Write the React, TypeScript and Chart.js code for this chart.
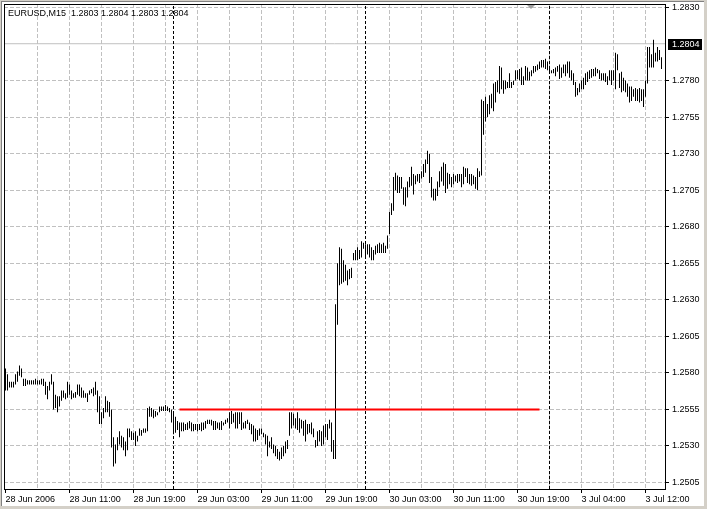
import React, { useEffect, useRef } from "react";
import { Chart, registerables } from "chart.js";

Chart.register(...registerables);

// ---- text ----
const symbolTitle = "EURUSD,M15";
const lastBarOHLC = ["1.2803", "1.2804", "1.2803", "1.2804"];
const bidLabel = "1.2804";

// ---- time axis (one label every 32 M15 bars, gridline every 16) ----
const timeLabels = [
  "28 Jun 2006", "28 Jun 11:00", "28 Jun 19:00", "29 Jun 03:00", "29 Jun 11:00",
  "29 Jun 19:00", "30 Jun 03:00", "30 Jun 11:00", "30 Jun 19:00", "3 Jul 04:00", "3 Jul 12:00",
];
const barsPerLabel = 32;
const barsPerGrid = 16;
const daySeparatorBars = [84, 180, 272];
const shiftMarkerBar = 262.75;

// ---- price axis ----
const priceTicks = [
  1.2505, 1.253, 1.2555, 1.258, 1.2605, 1.263, 1.2655, 1.268, 1.2705, 1.273, 1.2755, 1.278, 1.2805, 1.283,
].filter((v) => v !== 1.2805);
const priceMin = 1.250055;
const priceMax = 1.283239;

// ---- horizontal levels ----
const supportLevel = 1.2555;
const supportFromBar = 87;
const supportToBar = 267;
const bidLevel = 1.28052;

// ---- bar highs / lows (M15) ----
const highs = [
  1.2583, 1.2579, 1.2574, 1.2574, 1.2574, 1.2579, 1.2581, 1.2585, 1.2583, 1.2576,
  1.2576, 1.2575, 1.2575, 1.2575, 1.2575, 1.2576, 1.2575, 1.2575, 1.2576, 1.2576,
  1.2574, 1.2571, 1.2574, 1.2579, 1.2574, 1.2565, 1.2564, 1.2564, 1.2568, 1.2568,
  1.2566, 1.2574, 1.2572, 1.2568, 1.2566, 1.2567, 1.2572, 1.2572, 1.257, 1.2568,
  1.2566, 1.2566, 1.2568, 1.2569, 1.257, 1.2574, 1.2568, 1.2564, 1.2553, 1.2556,
  1.2564, 1.2561, 1.256, 1.2555, 1.2536, 1.2531, 1.2536, 1.254, 1.2537, 1.2536,
  1.2533, 1.2542, 1.2542, 1.254, 1.2539, 1.254, 1.2537, 1.2542, 1.2541, 1.2542,
  1.2542, 1.2556, 1.2557, 1.2556, 1.2555, 1.2554, 1.2553, 1.2557, 1.2557, 1.2557,
  1.2558, 1.2557, 1.2556, 1.2555, 1.2553, 1.255, 1.2547, 1.2546, 1.2546, 1.2546,
  1.2545, 1.2546, 1.2547, 1.2546, 1.2545, 1.2545, 1.2545, 1.2545, 1.2546, 1.2546,
  1.2547, 1.2548, 1.2548, 1.2548, 1.2547, 1.2547, 1.2546, 1.2546, 1.2547, 1.2546,
  1.2548, 1.2549, 1.2553, 1.2554, 1.2552, 1.2553, 1.2553, 1.2553, 1.2553, 1.2546,
  1.2547, 1.2548, 1.2546, 1.2545, 1.2544, 1.2542, 1.2541, 1.2542, 1.2542, 1.2539,
  1.2538, 1.2537, 1.2533, 1.2536, 1.2531, 1.253, 1.2528, 1.2526, 1.2529, 1.253,
  1.2533, 1.2534, 1.2553, 1.2553, 1.2552, 1.2549, 1.2553, 1.2549, 1.2548, 1.2547,
  1.2548, 1.2545, 1.2545, 1.2546, 1.2542, 1.2534, 1.254, 1.2541, 1.254, 1.2544,
  1.2545, 1.2545, 1.2548, 1.2546, 1.2534, 1.2627, 1.2655, 1.2666, 1.2665, 1.2657,
  1.2654, 1.265, 1.2651, 1.2652, 1.2662, 1.2664, 1.2666, 1.2664, 1.267, 1.2669,
  1.2668, 1.2668, 1.2668, 1.2666, 1.2664, 1.2667, 1.2668, 1.2669, 1.2668, 1.2669,
  1.2667, 1.2674, 1.269, 1.2696, 1.2714, 1.2717, 1.2715, 1.2714, 1.2714, 1.2707,
  1.2707, 1.2711, 1.2714, 1.2721, 1.2716, 1.2715, 1.2716, 1.2716, 1.2718, 1.2723,
  1.2726, 1.2732, 1.273, 1.2714, 1.2706, 1.2706, 1.2711, 1.2718, 1.2721, 1.2724,
  1.2723, 1.2717, 1.2716, 1.2714, 1.2716, 1.2715, 1.2716, 1.2716, 1.2716, 1.2721,
  1.272, 1.272, 1.2716, 1.2716, 1.2715, 1.2714, 1.272, 1.2718, 1.2767, 1.2766,
  1.2769, 1.2764, 1.277, 1.2771, 1.2778, 1.2779, 1.278, 1.279, 1.2789, 1.278,
  1.278, 1.2779, 1.2785, 1.2779, 1.278, 1.2787, 1.2787, 1.2788, 1.2789, 1.2783,
  1.279, 1.2789, 1.2786, 1.2787, 1.279, 1.279, 1.2791, 1.2793, 1.2794, 1.2794,
  1.2795, 1.2793, 1.2789, 1.2787, 1.2788, 1.2789, 1.279, 1.2791, 1.2789, 1.2791,
  1.2791, 1.2793, 1.2793, 1.2787, 1.2785, 1.2779, 1.2775, 1.2778, 1.278, 1.2782,
  1.2785, 1.2786, 1.2787, 1.2788, 1.2788, 1.2789, 1.2788, 1.2787, 1.2785, 1.2785,
  1.2785, 1.2783, 1.2787, 1.2787, 1.2787, 1.2799, 1.2798, 1.2785, 1.2786, 1.2782,
  1.278, 1.2778, 1.2776, 1.2776, 1.2774, 1.2775, 1.2774, 1.2775, 1.2774, 1.2774,
  1.278, 1.2803, 1.2803, 1.2798, 1.2808, 1.2799, 1.2803, 1.2801, 1.2796,
];
const lows = [
  1.2568, 1.2568, 1.257, 1.257, 1.257, 1.2572, 1.2574, 1.2578, 1.2577, 1.2571,
  1.2571, 1.2572, 1.2572, 1.2572, 1.2572, 1.2572, 1.2572, 1.2572, 1.2572, 1.2571,
  1.2565, 1.2562, 1.2568, 1.2572, 1.2555, 1.2556, 1.2553, 1.2557, 1.2561, 1.2563,
  1.2562, 1.2563, 1.2565, 1.2562, 1.2563, 1.2563, 1.2565, 1.2564, 1.2563, 1.2563,
  1.2563, 1.256, 1.2565, 1.2566, 1.2564, 1.2565, 1.2553, 1.2545, 1.2545, 1.2549,
  1.2553, 1.2553, 1.255, 1.2529, 1.2516, 1.2518, 1.2527, 1.2531, 1.2529, 1.2527,
  1.2523, 1.2527, 1.2536, 1.2534, 1.2534, 1.253, 1.2533, 1.2537, 1.2537, 1.2539,
  1.2539, 1.254, 1.255, 1.255, 1.2549, 1.255, 1.2551, 1.2553, 1.2554, 1.2554,
  1.2554, 1.2554, 1.2553, 1.2546, 1.2538, 1.2539, 1.2541, 1.2536, 1.254, 1.254,
  1.2541, 1.2541, 1.2542, 1.254, 1.254, 1.2541, 1.254, 1.2541, 1.254, 1.2541,
  1.2542, 1.2545, 1.2545, 1.2544, 1.2541, 1.2541, 1.2542, 1.2541, 1.2541, 1.2544,
  1.2545, 1.2546, 1.2542, 1.2545, 1.2546, 1.2542, 1.2542, 1.2545, 1.2541, 1.2542,
  1.2542, 1.2545, 1.2541, 1.2538, 1.2533, 1.2533, 1.2534, 1.2537, 1.2538, 1.2536,
  1.2531, 1.2523, 1.2529, 1.2528, 1.2525, 1.2523, 1.2521, 1.252, 1.2521, 1.2523,
  1.2525, 1.2528, 1.2537, 1.2542, 1.2544, 1.2542, 1.2541, 1.2539, 1.2542, 1.2537,
  1.2533, 1.2538, 1.2539, 1.2538, 1.2536, 1.2529, 1.253, 1.2533, 1.253, 1.2531,
  1.2536, 1.2534, 1.2542, 1.2526, 1.2521, 1.2521, 1.2613, 1.264, 1.2641, 1.2642,
  1.2643, 1.264, 1.2644, 1.2645, 1.2657, 1.2657, 1.2657, 1.2658, 1.2659, 1.2665,
  1.2659, 1.2661, 1.2659, 1.2657, 1.2657, 1.2661, 1.2662, 1.2662, 1.2662, 1.2662,
  1.2662, 1.2665, 1.2675, 1.2688, 1.2691, 1.2705, 1.2703, 1.2703, 1.2706, 1.2695,
  1.2694, 1.27, 1.2707, 1.2708, 1.2702, 1.2709, 1.2711, 1.271, 1.2713, 1.2714,
  1.2717, 1.2723, 1.271, 1.27, 1.2698, 1.2698, 1.2701, 1.2707, 1.2711, 1.2708,
  1.2703, 1.2706, 1.2709, 1.2707, 1.2709, 1.2711, 1.271, 1.2711, 1.2707, 1.2709,
  1.2714, 1.271, 1.2709, 1.2708, 1.2709, 1.2706, 1.2705, 1.2714, 1.2715, 1.2743,
  1.2752, 1.2755, 1.2757, 1.2761, 1.2759, 1.2765, 1.2772, 1.2771, 1.2774, 1.2771,
  1.2774, 1.2775, 1.2775, 1.2775, 1.2777, 1.278, 1.2781, 1.278, 1.2777, 1.2777,
  1.278, 1.278, 1.278, 1.2783, 1.2785, 1.2786, 1.2787, 1.2788, 1.2789, 1.2789,
  1.2788, 1.2787, 1.2785, 1.2785, 1.2785, 1.2783, 1.2786, 1.2781, 1.2782, 1.2785,
  1.2783, 1.2785, 1.2782, 1.278, 1.2777, 1.2769, 1.277, 1.2772, 1.2774, 1.2774,
  1.2777, 1.2779, 1.2781, 1.2782, 1.2783, 1.2783, 1.2785, 1.2781, 1.278, 1.278,
  1.2779, 1.2777, 1.278, 1.2777, 1.278, 1.2774, 1.2787, 1.2775, 1.2772, 1.2773,
  1.2772, 1.2769, 1.2765, 1.2766, 1.2769, 1.2766, 1.2766, 1.2765, 1.2766, 1.2762,
  1.2769, 1.2778, 1.2789, 1.2789, 1.2789, 1.2793, 1.2793, 1.2794, 1.2788,
];

const FONT = "Liberation Sans";
const GRID = "#c0c0c0";
const CLEAR = "rgba(0,0,0,0)";

const W = 707;
const H = 509;

export default function App() {
  const ref = useRef<HTMLCanvasElement | null>(null);

  useEffect(() => {
    const canvas = ref.current;
    if (!canvas) return;
    const n = Math.min(highs.length, lows.length);
    const xMin = -0.75;
    const xMax = n + 0.75;
    const gridValues: number[] = [];
    for (let v = 0; v <= n; v += barsPerGrid) gridValues.push(v);
    const isLabelled = (v: number) => v % barsPerLabel === 0 && timeLabels[v / barsPerLabel] !== undefined;

    const mtPlugin = {
      id: "mtFrame",
      beforeDraw(chart: any) {
        const c = chart.ctx;
        c.save();
        c.fillStyle = "#ffffff";
        c.fillRect(0, 0, W, H);
        c.fillStyle = "#d4d0c8";
        c.fillRect(W - 3, 0, 3, H);
        c.fillRect(0, H - 3, W, 3);
        c.fillRect(0, 0, 1, H);
        c.fillRect(0, 0, W, 1);
        c.fillStyle = "#808080";
        c.fillRect(1, 1, 1, H - 4);
        c.fillRect(1, 1, W - 4, 1);
        c.restore();
      },
      afterDraw(chart: any) {
        const c = chart.ctx;
        const a = chart.chartArea;
        const xs = chart.scales.x;
        const ys = chart.scales.y;
        c.save();
        // plot frame
        c.strokeStyle = "#000";
        c.lineWidth = 1;
        c.strokeRect(Math.round(a.left) + 0.5, Math.round(a.top) + 0.5, Math.round(a.right - a.left), Math.round(a.bottom - a.top));
        // title
        c.fillStyle = "#000";
        c.font = `9px '${FONT}'`;
        c.textBaseline = "alphabetic";
        c.textAlign = "left";
        c.fillText(`${symbolTitle}  ${lastBarOHLC.join(" ")}`, a.left + 4, a.top + 12);
        // chart shift marker
        const mx = xs.getPixelForValue(shiftMarkerBar);
        c.fillStyle = "#a0a0a0";
        c.beginPath();
        c.moveTo(mx - 4, a.top + 1);
        c.lineTo(mx + 4, a.top + 1);
        c.lineTo(mx, a.top + 5);
        c.closePath();
        c.fill();
        // bid label
        const by = Math.round(ys.getPixelForValue(bidLevel));
        c.fillStyle = "#000";
        c.fillRect(a.right + 3, by - 5, 34, 11);
        c.fillStyle = "#fff";
        c.textBaseline = "middle";
        c.fillText(bidLabel, a.right + 7, by + 0.5);
        c.restore();
      },
    };

    const chart = new Chart(canvas, {
      type: "bar",
      data: {
        datasets: [
          {
            type: "line",
            data: [
              { x: xMin, y: bidLevel },
              { x: xMax, y: bidLevel },
            ],
            borderColor: "#c0c0c0",
            borderWidth: 1,
            pointRadius: 0,
            order: 5,
          } as any,
          {
            type: "bar",
            data: Array.from({ length: n }, (_, i) => ({ x: i, y: [lows[i], highs[i]] })),
            backgroundColor: "#000",
            borderWidth: 0,
            barThickness: 1,
            inflateAmount: 0,
            order: 3,
          } as any,
          ...daySeparatorBars.map(
            (b) =>
              ({
                type: "line",
                data: [
                  { x: b, y: priceMin },
                  { x: b, y: priceMax },
                ],
                borderColor: "#000",
                borderWidth: 1,
                borderDash: [3, 2],
                pointRadius: 0,
                order: 2,
              } as any)
          ),
          {
            type: "line",
            data: [
              { x: supportFromBar, y: supportLevel },
              { x: supportToBar, y: supportLevel },
            ],
            borderColor: "#ff0000",
            borderWidth: 2,
            pointRadius: 0,
            order: 1,
          } as any,
        ],
      },
      options: {
        responsive: false,
        animation: false,
        events: [],
        layout: { padding: { left: 4, top: 4, right: 0, bottom: 0 } },
        plugins: { legend: { display: false }, tooltip: { enabled: false }, title: { display: false } },
        scales: {
          x: {
            type: "linear",
            min: xMin,
            max: xMax,
            offset: false,
            afterBuildTicks: (s: any) => {
              s.ticks = gridValues.map((v) => ({ value: v }));
            },
            afterFit: (s: any) => {
              s.height = 20;
              s.paddingLeft = 0;
              s.paddingRight = 0;
            },
            grid: {
              offset: false,
              color: (ctx: any) => (ctx.tick && ctx.tick.value === 0 ? CLEAR : GRID),
              tickColor: (ctx: any) => (ctx.tick && isLabelled(ctx.tick.value) ? "#000" : CLEAR),
              tickLength: 4,
              lineWidth: 1,
              borderDash: [4, 2],
            },
            border: { display: false, dash: [4, 2] },
            ticks: {
              autoSkip: false,
              maxRotation: 0,
              minRotation: 0,
              align: "start",
              padding: 1,
              color: "#000",
              font: { family: FONT, size: 9 },
              callback: (v: any) => {
                const num = Number(v);
                return isLabelled(num) ? timeLabels[num / barsPerLabel] : "";
              },
            },
          } as any,
          y: {
            type: "linear",
            position: "right",
            min: priceMin,
            max: priceMax,
            beginAtZero: false,
            afterBuildTicks: (s: any) => {
              s.ticks = priceTicks.map((v) => ({ value: v }));
            },
            afterFit: (s: any) => {
              s.width = 42;
              s.paddingTop = 0;
              s.paddingBottom = 0;
            },
            grid: {
              color: GRID,
              tickColor: "#000",
              tickLength: 4,
              lineWidth: 1,
              borderDash: [4, 2],
            },
            border: { display: false, dash: [4, 2] },
            ticks: {
              autoSkip: false,
              padding: 3,
              color: "#000",
              font: { family: FONT, size: 9 },
              callback: (v: any) => Number(v).toFixed(4),
            },
          } as any,
        },
      },
      plugins: [mtPlugin],
    });
    return () => chart.destroy();
  }, []);

  return (
    <div style={{ position: "fixed", left: 0, top: 0, width: W, height: H, background: "#fff" }}>
      <canvas ref={ref} width={W} height={H} style={{ display: "block", width: W, height: H }} />
    </div>
  );
}
